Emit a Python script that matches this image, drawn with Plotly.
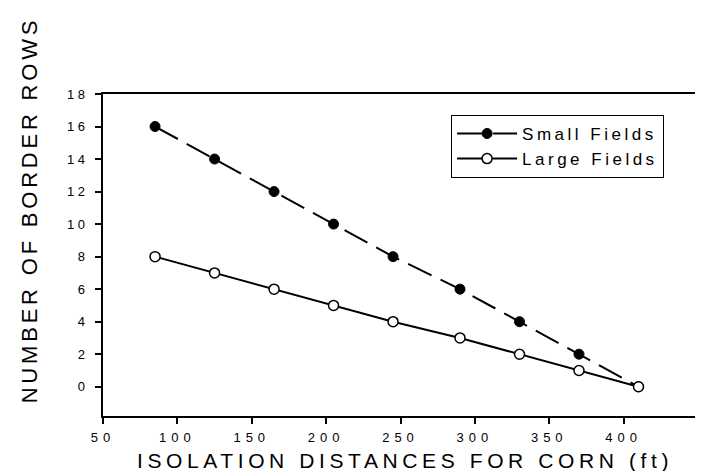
import plotly.graph_objects as go

# Data
distance_ft = [85, 125, 165, 205, 245, 290, 330, 370, 410]
small_fields_rows = [16, 14, 12, 10, 8, 6, 4, 2, 0]
large_fields_rows = [8, 7, 6, 5, 4, 3, 2, 1, 0]

x_tick_vals = [50, 100, 150, 200, 250, 300, 350, 400, 450]
y_tick_vals = [0, 2, 4, 6, 8, 10, 12, 14, 16, 18]

series_names = ["Small Fields", "Large Fields"]
x_title = "ISOLATION DISTANCES FOR CORN (ft)"
y_title = "NUMBER OF BORDER ROWS"

FONT = "Arial, Liberation Sans, sans-serif"


def spaced(text, px):
    return f'<span style="letter-spacing:{px}px">{text}</span>'


fig = go.Figure()

fig.add_trace(go.Scatter(
    x=distance_ft, y=small_fields_rows, name=spaced(series_names[0], 3.5),
    mode="lines+markers",
    line=dict(color="black", width=2, dash="26px,10px"),
    marker=dict(symbol="circle", size=10, color="black",
                line=dict(color="black", width=1)),
))
fig.add_trace(go.Scatter(
    x=distance_ft, y=large_fields_rows, name=spaced(series_names[1], 3.5),
    mode="lines+markers",
    line=dict(color="black", width=2),
    marker=dict(symbol="circle", size=10, color="white",
                line=dict(color="black", width=1.5)),
))

axis_common = dict(
    showgrid=False, zeroline=False, showline=True, linecolor="black",
    linewidth=2, mirror=True, ticks="outside", ticklen=6, tickwidth=1.5,
    tickcolor="black", tickfont=dict(family=FONT, size=13, color="black"),
)

fig.update_xaxes(
    range=[50, 450], tickvals=x_tick_vals,
    ticktext=[spaced(str(v), 5) for v in x_tick_vals],
    ticklabelstandoff=2, **axis_common,
)
fig.update_yaxes(
    range=[-1.8, 18], tickvals=y_tick_vals,
    ticktext=[spaced(str(v), 3.5) for v in y_tick_vals],
    ticklabelstandoff=4, **axis_common,
)

fig.add_annotation(
    text=spaced(x_title, 4.6), xref="paper", yref="paper",
    x=0.508, y=-0.176, xanchor="center", yanchor="bottom", showarrow=False,
    borderpad=0,
    font=dict(family=FONT, size=21, color="black"),
)
fig.add_annotation(
    text=spaced(y_title, 3.8), xref="paper", yref="paper",
    x=-0.122, y=0.64, xanchor="center", yanchor="middle", showarrow=False,
    textangle=-90, font=dict(family=FONT, size=22, color="black"),
)

fig.update_layout(
    width=703, height=471,
    margin=dict(l=95, r=13, t=86, b=63),
    paper_bgcolor="white", plot_bgcolor="white",
    font=dict(family=FONT, color="black"),
    showlegend=True,
    legend=dict(
        x=0.585, y=0.935, xanchor="left", yanchor="top",
        bordercolor="black", borderwidth=1, bgcolor="white",
        font=dict(family=FONT, size=17, color="black"),
        itemwidth=60, tracegroupgap=0,
    ),
)

fig.write_html("out.html")
